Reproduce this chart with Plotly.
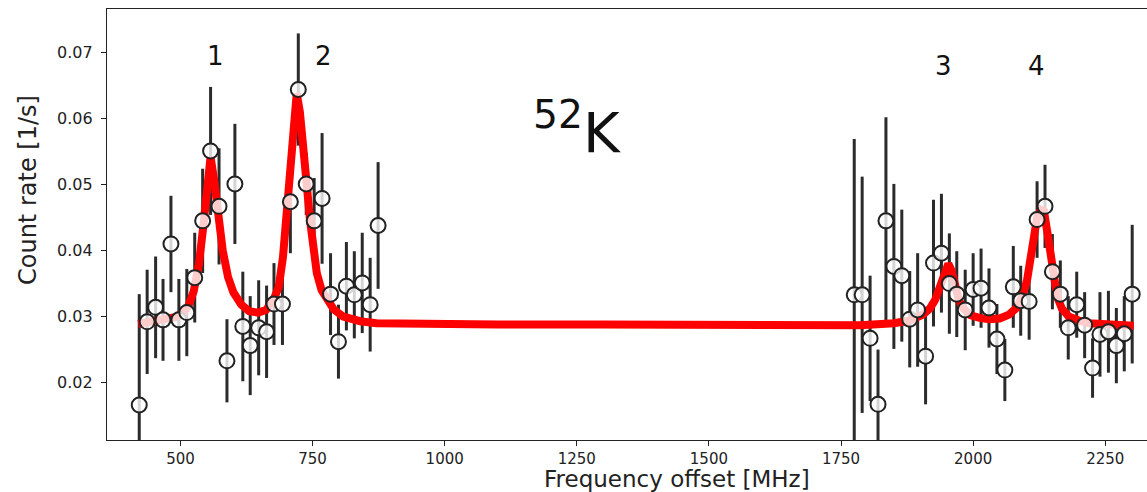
import plotly.graph_objects as go

# Measured data points (frequency offset in MHz, count rate in 1/s, error)
freq = [422, 437, 453, 467, 482, 497, 512, 527, 542, 557, 573, 588, 603, 618, 632,
        648, 663, 677, 693, 708, 723, 738, 753, 768, 784, 799, 814, 829, 844, 859, 874,
        1775, 1790, 1805, 1820, 1835, 1850, 1865, 1880, 1895, 1910, 1925, 1940, 1955,
        1969, 1985, 2000, 2015, 2030, 2045, 2060, 2076, 2090, 2106, 2121, 2136, 2150,
        2165, 2180, 2196, 2211, 2226, 2240, 2256, 2271, 2286, 2301]
rate = [0.0166, 0.0292, 0.0314, 0.0295, 0.0410, 0.0295, 0.0306, 0.0359, 0.0445, 0.0551,
        0.0467, 0.0233, 0.0501, 0.0285, 0.0256, 0.0283, 0.0277, 0.0319, 0.0319, 0.0474,
        0.0644, 0.0501, 0.0445, 0.0479, 0.0334, 0.0262, 0.0346, 0.0333, 0.0351, 0.0318,
        0.0438,
        0.0333, 0.0333, 0.0267, 0.0167, 0.0445, 0.0376, 0.0362, 0.0296, 0.0310, 0.0240,
        0.0381, 0.0396, 0.0350, 0.0334, 0.0310, 0.0341, 0.0343, 0.0313, 0.0266, 0.0219,
        0.0345, 0.0324, 0.0323, 0.0447, 0.0467, 0.0368, 0.0334, 0.0283, 0.0318, 0.0287,
        0.0222, 0.0273, 0.0277, 0.0256, 0.0274, 0.0334]
err = [0.0168, 0.0079, 0.0077, 0.0062, 0.0073, 0.0062, 0.0066, 0.0068, 0.0079, 0.0097,
       0.0088, 0.0063, 0.0091, 0.0083, 0.0075, 0.0072, 0.0070, 0.0062, 0.0062, 0.0078,
       0.0085, 0.0047, 0.0065, 0.0099, 0.0062, 0.0056, 0.0067, 0.0066, 0.0076, 0.0071,
       0.0096,
       0.0236, 0.0179, 0.0095, 0.0083, 0.0157, 0.0125, 0.0100, 0.0073, 0.0086, 0.0073,
       0.0096, 0.0090, 0.0076, 0.0065, 0.0061, 0.0055, 0.0060, 0.0060, 0.0053, 0.0047,
       0.0062, 0.0053, 0.0058, 0.0058, 0.0063, 0.0057, 0.0051, 0.0048, 0.0050, 0.0050,
       0.0045, 0.0064, 0.0062, 0.0057, 0.0057, 0.0105]

# Fit curve
fit_x = [420, 460, 490, 505, 515, 525, 535, 543, 550, 557, 564, 571, 580, 590, 600,
         615, 630, 647, 662, 676, 686, 694, 701, 707, 714, 720, 726, 733, 739, 745,
         752, 758, 767, 777, 790, 808, 840, 871, 950, 1100, 1300, 1500, 1700, 1786,
         1850, 1880, 1905, 1918, 1928, 1937, 1946, 1953, 1959, 1965, 1973, 1981, 1995,
         2012, 2030, 2050, 2068, 2082, 2093, 2102, 2109, 2115, 2121, 2128, 2134, 2140,
         2146, 2152, 2159, 2168, 2181, 2200, 2219, 2260, 2304]
fit_y = [0.0289, 0.0293, 0.0299, 0.0306, 0.0316, 0.0338, 0.0380, 0.0435, 0.0495, 0.0542,
         0.0505, 0.0455, 0.0400, 0.0360, 0.0337, 0.0318, 0.0308, 0.0306, 0.0310, 0.0325,
         0.0345, 0.0390, 0.0450, 0.0520, 0.0590, 0.0638, 0.0610, 0.0560, 0.0500, 0.0447,
         0.0400, 0.0366, 0.0340, 0.0325, 0.0311, 0.0300, 0.0293, 0.0290, 0.0289, 0.0288,
         0.0288, 0.0287, 0.0287, 0.0287, 0.0290, 0.0294, 0.0303, 0.0312, 0.0325, 0.0345,
         0.0365, 0.0380, 0.0370, 0.0345, 0.0325, 0.0313, 0.0302, 0.0298, 0.0296, 0.0297,
         0.0303, 0.0313, 0.0330, 0.0355, 0.0386, 0.0420, 0.0450, 0.0462, 0.0460, 0.0430,
         0.0391, 0.0355, 0.0330, 0.0312, 0.0300, 0.0294, 0.0290, 0.0288, 0.0286]

peak_labels = ["1", "2", "3", "4"]
peak_label_x = [567, 770, 1944, 2119]
peak_label_y = [0.0695, 0.0695, 0.0680, 0.0680]

x_ticks = [500, 750, 1000, 1250, 1500, 1750, 2000, 2250]
y_ticks = [0.02, 0.03, 0.04, 0.05, 0.06, 0.07]

FONT = "DejaVu Sans"
INK = "#222222"

fig = go.Figure()

# error bars (below the fit line)
fig.add_trace(go.Scatter(
    x=freq, y=rate, mode="markers",
    marker=dict(size=2, color="rgba(0,0,0,0)"),
    error_y=dict(type="data", array=err, visible=True, color="#2b2b2b",
                 thickness=3, width=0),
    hoverinfo="skip", showlegend=False))

# fit line
fig.add_trace(go.Scatter(
    x=fit_x, y=fit_y, mode="lines",
    line=dict(color="#ff0000", width=8),
    showlegend=False))

# markers on top
fig.add_trace(go.Scatter(
    x=freq, y=rate, mode="markers",
    marker=dict(size=15, color="rgba(255,255,255,0.8)",
                line=dict(color=INK, width=2)),
    showlegend=False))

for t, xx, yy in zip(peak_labels, peak_label_x, peak_label_y):
    fig.add_annotation(x=xx, y=yy, text=t, showarrow=False,
                       font=dict(family=FONT, size=26, color="#111111"))

fig.add_annotation(x=1250, y=0.0585, text="<sup>52</sup>K", showarrow=False,
                   font=dict(family=FONT, size=56, color="#111111"))

# axis titles placed as annotations (in pixels relative to the visible frame)
fig.add_annotation(xref="paper", yref="paper", x=(677 - 107) / 1040,
                   y=-(479 - 440) / 431, xanchor="center", yanchor="middle",
                   text="Frequency offset [MHz]", showarrow=False,
                   font=dict(family=FONT, size=23, color=INK))
fig.add_annotation(xref="paper", yref="paper", x=(28 - 107) / 1040,
                   y=(440 - 190) / 431, xanchor="center", yanchor="middle",
                   text="Count rate [1/s]", textangle=-90, showarrow=False,
                   font=dict(family=FONT, size=24, color=INK))

fig.update_layout(
    width=1147, height=492,
    margin=dict(l=107, r=0, t=9, b=52),
    paper_bgcolor="white", plot_bgcolor="white",
    font=dict(family=FONT, color=INK),
)
fig.update_xaxes(
    range=[361, 2329], tickvals=x_ticks, ticks="outside", ticklen=5,
    tickcolor=INK, tickwidth=1.3,
    showline=True, linecolor=INK, linewidth=1.3, mirror=True,
    showgrid=False, zeroline=False,
    tickfont=dict(family=FONT, size=15, color=INK),
)
fig.update_yaxes(
    range=[0.0113, 0.0766], tickvals=y_ticks, tickformat=".2f",
    ticks="outside", ticklen=5, tickcolor=INK, tickwidth=1.3,
    ticklabelstandoff=5,
    showline=True, linecolor=INK, linewidth=1.3, mirror=False,
    showgrid=False, zeroline=False,
    tickfont=dict(family=FONT, size=16, color=INK),
)

fig.write_html("out.html")
